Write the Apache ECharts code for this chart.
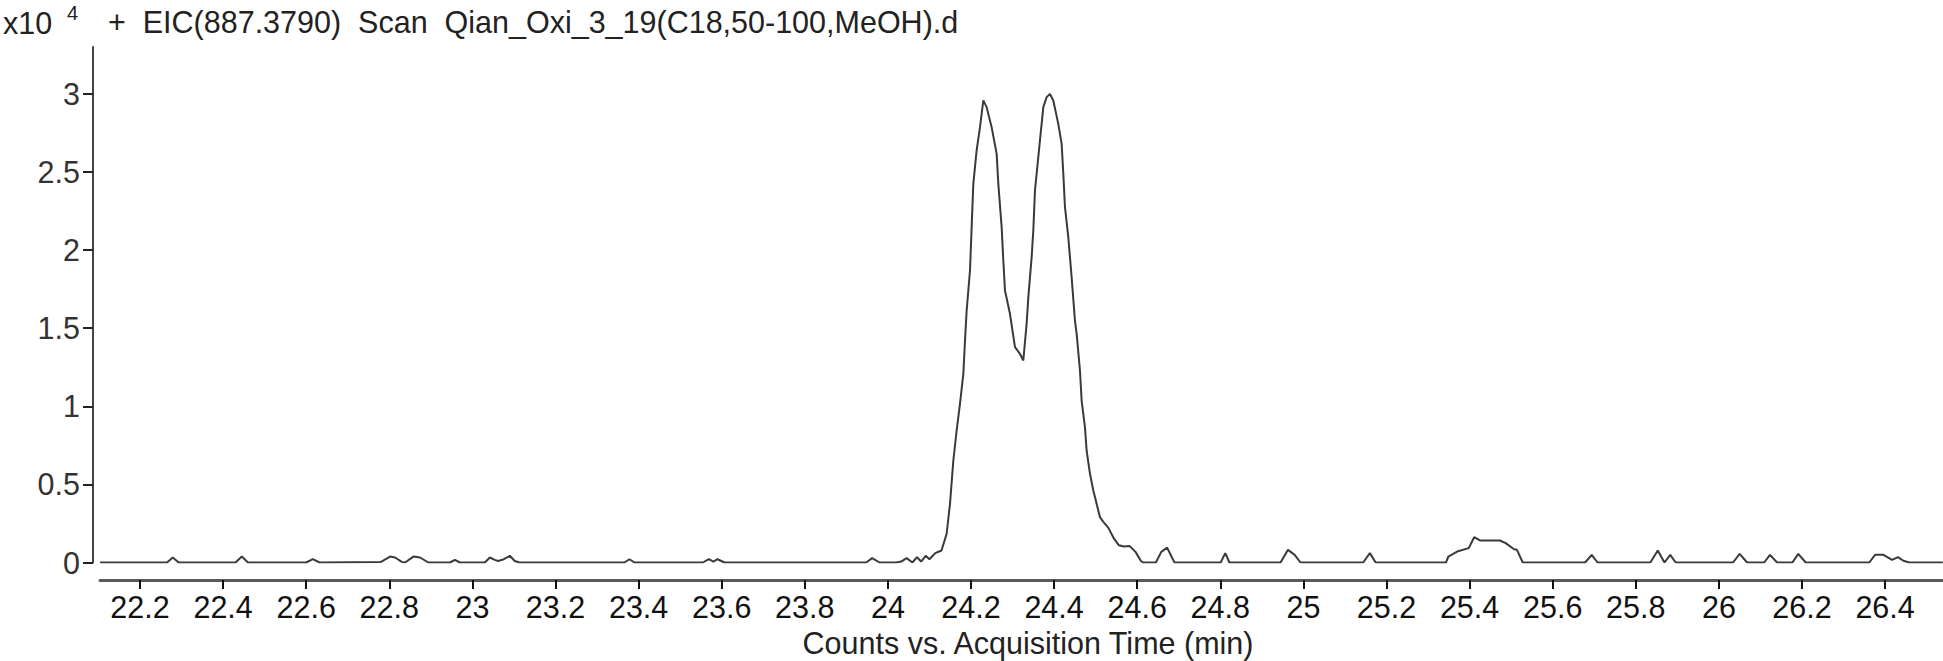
<!DOCTYPE html>
<html>
<head>
<meta charset="utf-8">
<script src="https://cdn.jsdelivr.net/npm/echarts@6/dist/echarts.min.js"></script>
<style>
html,body{margin:0;padding:0;background:#fff;}
#chart{width:1943px;height:661px;}
</style>
</head>
<body>
<div id="chart"></div>
<script>
// Acquisition time (min)
const timeMin = [
  22.104, 22.265, 22.279, 22.293, 22.430, 22.445, 22.460, 22.600, 22.616, 22.632,
  22.780, 22.802, 22.814, 22.830, 22.838, 22.858, 22.874, 22.894, 22.946, 22.958,
  22.970, 23.030, 23.042, 23.054, 23.062, 23.076, 23.090, 23.102, 23.113, 23.366,
  23.378, 23.390, 23.555, 23.569, 23.580, 23.590, 23.607, 23.948, 23.962, 23.980,
  24.020, 24.032, 24.045, 24.059, 24.070, 24.080, 24.091, 24.100, 24.114, 24.129,
  24.1414, 24.1495, 24.1575, 24.1655, 24.1735, 24.1816, 24.1856, 24.1896, 24.1976, 24.2016,
  24.2056, 24.2136, 24.2217, 24.2297, 24.2377, 24.2497, 24.2618, 24.2658, 24.2738, 24.2778,
  24.2818, 24.2938, 24.3059, 24.3179, 24.3259, 24.3339, 24.3380, 24.3460, 24.3500, 24.3540,
  24.3620, 24.3660, 24.3741, 24.3821, 24.3901, 24.3981, 24.4101, 24.4182, 24.4222, 24.4262,
  24.4342, 24.4422, 24.4502, 24.4543, 24.4623, 24.4663, 24.4743, 24.4783, 24.4864, 24.4944,
  24.5024, 24.5104, 24.518, 24.530, 24.543, 24.556, 24.568, 24.582, 24.596, 24.609,
  24.614, 24.645, 24.658, 24.672, 24.684, 24.690, 24.801, 24.812, 24.822, 24.945,
  24.963, 24.979, 24.993, 25.144, 25.160, 25.174, 25.343, 25.349, 25.370, 25.398,
  25.411, 25.425, 25.473, 25.487, 25.507, 25.514, 25.528, 25.678, 25.694, 25.708,
  25.835, 25.853, 25.869, 25.883, 25.896, 26.034, 26.050, 26.068, 26.109, 26.123,
  26.140, 26.177, 26.191, 26.209, 26.362, 26.376, 26.396, 26.417, 26.431, 26.444,
  26.458, 26.539
];
// Counts (x10^4)
const counts = [
  0, 0, 0.032, 0, 0, 0.038, 0, 0, 0.021, 0,
  0.004, 0.038, 0.032, 0.004, 0, 0.038, 0.032, 0, 0, 0.017,
  0, 0, 0.032, 0.017, 0.010, 0.021, 0.043, 0.010, 0, 0,
  0.021, 0, 0, 0.021, 0.006, 0.021, 0, 0, 0.028, 0,
  0, 0.006, 0.028, 0, 0.034, 0.006, 0.043, 0.021, 0.060, 0.077,
  0.184, 0.376, 0.653, 0.845, 1.016, 1.208, 1.421, 1.613, 1.869, 2.147,
  2.424, 2.638, 2.787, 2.958, 2.915, 2.787, 2.616, 2.424, 2.147, 1.933,
  1.741, 1.592, 1.379, 1.336, 1.293, 1.528, 1.699, 1.955, 2.126, 2.382,
  2.595, 2.702, 2.915, 2.979, 3.000, 2.958, 2.808, 2.680, 2.488, 2.275,
  2.083, 1.827, 1.549, 1.464, 1.229, 1.037, 0.866, 0.717, 0.568, 0.461,
  0.376, 0.290, 0.262, 0.225, 0.158, 0.110, 0.102, 0.105, 0.068, 0.010,
  0, 0, 0.068, 0.095, 0.030, 0, 0, 0.060, 0, 0,
  0.081, 0.049, 0, 0, 0.060, 0, 0, 0.038, 0.070, 0.092,
  0.162, 0.141, 0.141, 0.124, 0.085, 0.081, 0, 0, 0.049, 0,
  0, 0.077, 0, 0.049, 0, 0, 0.055, 0, 0, 0.049,
  0, 0, 0.055, 0, 0, 0.049, 0.049, 0.017, 0.034, 0.011,
  0, 0
];
const xTicks = [22.2, 22.4, 22.6, 22.8, 23, 23.2, 23.4, 23.6, 23.8, 24, 24.2, 24.4, 24.6, 24.8, 25, 25.2, 25.4, 25.6, 25.8, 26, 26.2, 26.4];
const yTicks = [0, 0.5, 1, 1.5, 2, 2.5, 3];
const titleText = '+  EIC(887.3790)  Scan  Qian_Oxi_3_19(C18,50-100,MeOH).d';
const xAxisName = 'Counts vs. Acquisition Time (min)';

const FONT = "'Liberation Sans', Arial, sans-serif";
const FS = 30.5;
const seriesData = timeMin.map((t, i) => [t, counts[i]]);

const chart = echarts.init(document.getElementById('chart'), null, {renderer: 'svg'});
chart.setOption({
  animation: false,
  backgroundColor: '#ffffff',
  grid: [
    {left: 93, right: 0, top: 47, bottom: 98.5},
    {left: 100, right: 0, top: 47, bottom: 81}
  ],
  xAxis: [
    {gridIndex: 0, type: 'value', min: 22.0869, max: 26.5394, show: false},
    {
      gridIndex: 1, type: 'value', min: 22.1037, max: 26.5394,
      axisLine: {show: true, lineStyle: {color: '#5a5a5a', width: 3}},
      axisTick: {show: true, customValues: xTicks, length: 9, lineStyle: {color: '#111', width: 2}},
      axisLabel: {customValues: xTicks, margin: 11, fontSize: FS, fontFamily: FONT, color: '#111'},
      splitLine: {show: false}
    }
  ],
  yAxis: [
    {
      gridIndex: 0, type: 'value', min: 0, max: 3.3,
      axisLine: {show: true, lineStyle: {color: '#444', width: 2}},
      axisTick: {show: true, customValues: yTicks, length: 10, lineStyle: {color: '#222', width: 2}},
      axisLabel: {customValues: yTicks, margin: 13, fontSize: FS, fontFamily: FONT, color: '#333'},
      splitLine: {show: false}
    },
    {gridIndex: 1, type: 'value', min: 0, max: 1, show: false}
  ],
  series: [{
    type: 'line',
    xAxisIndex: 0, yAxisIndex: 0,
    data: seriesData,
    showSymbol: false,
    symbol: 'none',
    lineStyle: {color: '#3a3a3a', width: 2},
    clip: true
  }],
  graphic: [
    {type: 'text', x: 3, y: 23, style: {text: 'x10', font: FS + "px " + FONT, fill: '#222', align: 'left', verticalAlign: 'middle'}},
    {type: 'text', x: 67, y: 13, style: {text: '4', font: "20px " + FONT, fill: '#222', align: 'left', verticalAlign: 'middle'}},
    {type: 'text', x: 108, y: 22, style: {text: titleText, font: FS + "px " + FONT, fill: '#222', align: 'left', verticalAlign: 'middle'}},
    {type: 'text', x: 1028, y: 643, style: {text: xAxisName, font: FS + "px " + FONT, fill: '#222', align: 'center', verticalAlign: 'middle'}}
  ]
});
</script>
</body>
</html>
